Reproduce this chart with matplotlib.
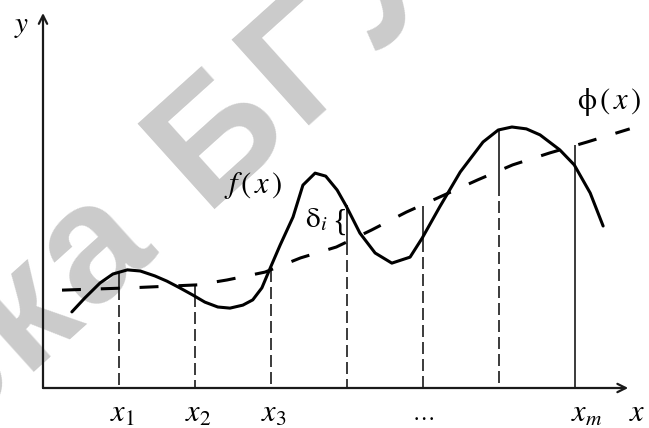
import numpy as np
import matplotlib
matplotlib.use("Agg")
import matplotlib.pyplot as plt
from matplotlib.font_manager import FontProperties

plt.rcParams['mathtext.fontset'] = 'stix'
plt.rcParams['font.family'] = ['Liberation Serif', 'DejaVu Serif']

# ---- data ----
f_x = [0.38, 0.55, 0.75, 0.92, 1.11, 1.28, 1.47, 1.63, 1.80, 1.97, 2.13, 2.30, 2.46,
       2.63, 2.76, 2.88, 2.99, 3.12, 3.29, 3.42, 3.58, 3.72, 3.87, 3.99, 4.17, 4.37,
       4.59, 4.83, 4.99, 5.22, 5.49, 5.79, 5.99, 6.17, 6.36, 6.54, 6.80, 6.99, 7.20, 7.37]
f_y = [2.03, 2.40, 2.80, 3.04, 3.15, 3.12, 2.99, 2.85, 2.67, 2.48, 2.29, 2.16, 2.13,
       2.21, 2.35, 2.67, 3.20, 3.81, 4.56, 5.41, 5.73, 5.65, 5.28, 4.85, 4.13, 3.60,
       3.33, 3.49, 4.00, 4.83, 5.76, 6.56, 6.88, 6.96, 6.91, 6.75, 6.35, 5.95, 5.20, 4.32]

phi_x = [0.25, 1.14, 2.03, 2.42, 2.92, 3.39, 3.86, 4.32, 4.78, 5.25, 5.72, 6.18, 6.67, 7.16, 7.72]
phi_y = [2.61, 2.67, 2.75, 2.88, 3.09, 3.47, 3.76, 4.21, 4.69, 5.12, 5.55, 5.95, 6.27, 6.56, 6.91]

nodes = [1, 2, 3, 4, 5, 6, 7]
f_nodes = [3.09, 2.48, 3.20, 4.88, 3.95, 6.88, 5.95]
phi_nodes = [2.67, 2.75, 3.15, 3.87, 4.85, 5.45, 6.48]
node_solid_full = [False, False, False, False, False, False, True]
node_labels = [r"$x_1$", r"$x_2$", r"$x_3$", "", "", "", r"$x_m$"]
watermark_before = "Библиотека "
watermark_after = "БГУИР"

x_axis_end = 7.70
y_axis_end = 10.0

W, H = 649, 428
fig = plt.figure(figsize=(W / 100, H / 100), dpi=100)
ax = fig.add_axes([0, 0, 1, 1])
ax.set_xlim(-43 / 76, 606 / 76)
ax.set_ylim(-40 / 37.5, 388 / 37.5)
ax.axis('off')

# watermark, letter by letter with tracking
ang = 42
gray = '#cbcbcb'
fs = 120
track = 6.0
fp = FontProperties(family='Liberation Sans', weight='bold', size=fs)
renderer = fig.canvas.get_renderer()
def adv(ch):
    w, h, d = renderer.get_text_width_height_descent(ch, fp, ismath=False)
    return w
u = np.array([np.cos(np.radians(ang)), np.sin(np.radians(ang))])
origin = np.array([204.0, H - 209.0])  # display coords of the "Б" of БГУИР
pos = origin.copy()
for ch in watermark_after:
    ax.text(pos[0] / W, pos[1] / H, ch, rotation=ang, rotation_mode='anchor',
            ha='left', va='baseline', fontproperties=fp, color=gray,
            zorder=0, transform=fig.transFigure)
    pos = pos + u * (adv(ch) + track)
pos = origin.copy()
for ch in reversed(watermark_before):
    w = adv(ch) if ch != ' ' else 0.30 * fs / 72 * 100
    pos = pos - u * (w + track)
    if ch != ' ':
        ax.text(pos[0] / W, pos[1] / H, ch, rotation=ang, rotation_mode='anchor',
                ha='left', va='baseline', fontproperties=fp, color=gray,
                zorder=0, transform=fig.transFigure)

axc = '#1a1a1a'
# axes
ax.annotate('', xy=(0, y_axis_end), xytext=(0, 0),
            arrowprops=dict(arrowstyle='->,head_length=0.6,head_width=0.3',
                            lw=1.6, color=axc, shrinkA=0, shrinkB=0))
ax.annotate('', xy=(x_axis_end, 0), xytext=(0, 0),
            arrowprops=dict(arrowstyle='->,head_length=0.6,head_width=0.3',
                            lw=1.6, color=axc, shrinkA=0, shrinkB=0))

# vertical lines at nodes
for xn, fv, pv, full in zip(nodes, f_nodes, phi_nodes, node_solid_full):
    top, low = max(fv, pv), min(fv, pv)
    if full:
        ax.plot([xn, xn], [top, 0], color=axc, lw=1.2, solid_capstyle='butt')
    else:
        ax.plot([xn, xn], [top, low], color=axc, lw=1.2, solid_capstyle='butt')
        ax.plot([xn, xn], [low, 0], color=axc, lw=1.2,
                linestyle=(0, (7.2, 3.0)), dash_capstyle='butt')

# phi dashed
ax.plot(phi_x, phi_y, color='black', lw=2.2, linestyle=(0, (6.2, 6.5)),
        dash_capstyle='butt')
# f curve
ax.plot(f_x, f_y, color='black', lw=2.2, solid_joinstyle='round',
        solid_capstyle='round')

# labels
for xn, lab in zip(nodes, node_labels):
    if lab:
        dx = 0.15 if lab == r"$x_m$" else 0.04
        ax.text(xn + dx, -0.69, lab, ha='center', va='center', fontsize=22)
ax.text(5.01, -0.72, "…", ha='center', va='center', fontsize=16)
ax.text(7.82, -0.69, r"$x$", ha='center', va='center', fontsize=22)
ax.text(-0.276, 9.63, r"$y$", ha='center', va='center', fontsize=21)
ax.text(2.77, 5.39, r"$f\,(\,x\,)$", ha='center', va='center', fontsize=22)
ax.text(7.45, 7.63, r"$\mathrm{\phi}\,(\,x\,)$", ha='center', va='center', fontsize=22)
ax.text(3.60, 4.48, r"$\mathrm{\delta}_i$", ha='center', va='center', fontsize=21)
ax.text(3.90, 4.40, "{", ha='center', va='center', fontsize=22, fontweight='light')

fig.savefig("out.png", dpi=100)
